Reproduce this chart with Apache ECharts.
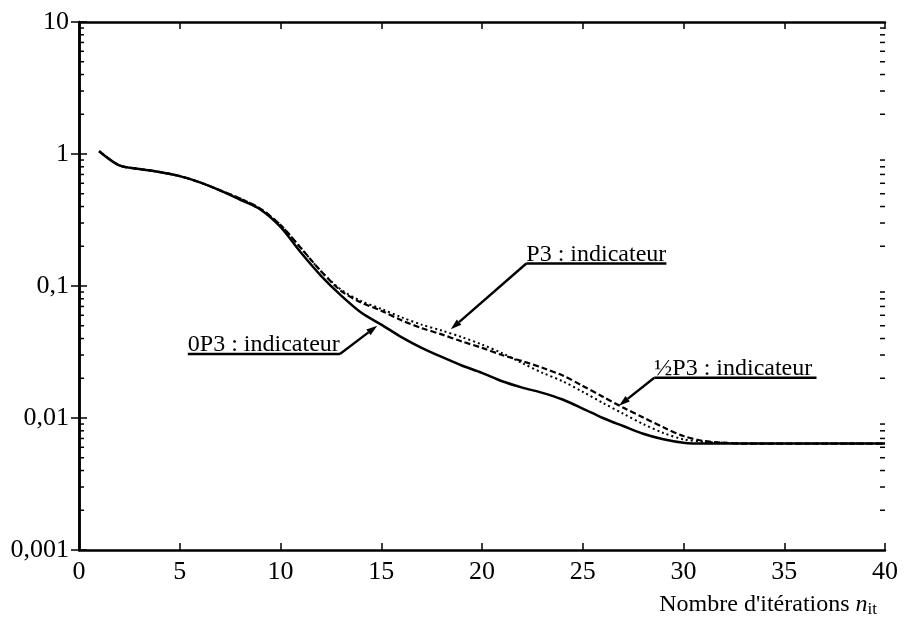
<!DOCTYPE html>
<html>
<head>
<meta charset="utf-8">
<script src="https://cdn.jsdelivr.net/npm/echarts@6/dist/echarts.min.js"></script>
<style>
  html, body { margin: 0; padding: 0; background: #fff; }
  #chart { width: 904px; height: 620px; }
</style>
</head>
<body>
<div id="chart"></div>
<script>
// Nombre d'itérations
const iterations = [1, 2, 3, 4, 5, 6, 7, 8, 9, 10, 11, 12, 13, 14, 15, 16, 17, 18, 19, 20,
  21, 22, 23, 24, 25, 26, 27, 28, 29, 30, 31, 32, 33, 34, 35, 36, 37, 38, 39, 40];

// 0P3 : indicateur (trait plein)
const serie0P3 = [1.05, 0.82, 0.77, 0.73, 0.68, 0.61, 0.53, 0.45, 0.38, 0.28,
  0.18, 0.12, 0.085, 0.063, 0.051, 0.041, 0.034, 0.029, 0.025, 0.022,
  0.019, 0.017, 0.0155, 0.0138, 0.0118, 0.0100, 0.0087, 0.0076, 0.0069, 0.0065,
  0.0064, 0.0064, 0.0064, 0.0064, 0.0064, 0.0064, 0.0064, 0.0064, 0.0064, 0.0064];

// P3 : indicateur (pointillés)
const serieP3 = [1.05, 0.82, 0.77, 0.73, 0.68, 0.61, 0.53, 0.46, 0.385, 0.29,
  0.195, 0.13, 0.094, 0.077, 0.067, 0.058, 0.051, 0.046, 0.041, 0.036,
  0.031, 0.026, 0.022, 0.019, 0.0158, 0.0130, 0.0108, 0.0090, 0.0077, 0.0069,
  0.0066, 0.0065, 0.0064, 0.0064, 0.0064, 0.0064, 0.0064, 0.0064, 0.0064, 0.0064];

// ½P3 : indicateur (tirets)
const serieDemiP3 = [1.05, 0.82, 0.77, 0.73, 0.68, 0.61, 0.53, 0.46, 0.385, 0.29,
  0.195, 0.13, 0.092, 0.075, 0.065, 0.055, 0.048, 0.043, 0.038, 0.034,
  0.030, 0.027, 0.024, 0.021, 0.0175, 0.0145, 0.0120, 0.0101, 0.0085, 0.0073,
  0.0067, 0.0065, 0.0064, 0.0064, 0.0064, 0.0064, 0.0064, 0.0064, 0.0064, 0.0064];

// étiquettes de l'axe des ordonnées (par puissance de 10)
const yTickLabels = { '-3': '0,001', '-2': '0,01', '-1': '0,1', '0': '1', '1': '10' };

// graduations secondaires de l'axe log (2..9 de chaque décade)
const minorTicks = [];
[0.001, 0.01, 0.1, 1].forEach(d => {
  [2, 3, 4, 5, 6, 7, 8, 9].forEach(m => minorTicks.push(+(d * m).toPrecision(3)));
});

// annotations : texte, début et fin du souligné, pointe de flèche (coordonnées données)
const annotations = [
  { text: '0P3 : indicateur', from: [5.4, 0.0305], to: [12.95, 0.0305], tip: [14.8, 0.050] },
  { text: 'P3 : indicateur', from: [22.2, 0.148], to: [29.15, 0.148], tip: [18.45, 0.047] },
  { text: '½P3 : indicateur', from: [28.55, 0.0202], to: [36.6, 0.0202], tip: [26.8, 0.0124] }
];

const FONT = '"Liberation Serif", "DejaVu Serif", serif';
const FS = 24;      // textes
const FS_TICK = 26; // graduations
const toPairs = vals => iterations.map((x, i) => [x, vals[i]]);

const chart = echarts.init(document.getElementById('chart'));

const axisLine = { show: true, lineStyle: { color: '#000', width: 2.5 } };

chart.setOption({
  animation: false,
  backgroundColor: '#fff',
  grid: { left: 79, right: 19, top: 22, bottom: 70, containLabel: false },
  title: {
    text: 'Nombre d\'itérations {n|n}{s|it}',
    right: 22,
    top: 587,
    textStyle: {
      fontFamily: FONT, fontSize: FS, fontWeight: 'normal', color: '#000',
      rich: {
        n: { fontFamily: FONT, fontSize: FS, fontStyle: 'italic', color: '#000' },
        s: { fontFamily: FONT, fontSize: 17, color: '#000', verticalAlign: 'bottom', padding: [9, 0, 0, 0] }
      }
    }
  },
  xAxis: [
    {
      type: 'value', min: 0, max: 40, interval: 5,
      axisLine,
      axisTick: { show: true, inside: true, length: 7, lineStyle: { color: '#000', width: 1.5 } },
      axisLabel: { color: '#000', fontFamily: FONT, fontSize: FS_TICK, margin: 9 },
      splitLine: { show: false }
    },
    {
      type: 'value', min: 0, max: 40, interval: 5, position: 'top',
      axisLine,
      axisTick: { show: true, inside: true, length: 7, lineStyle: { color: '#000', width: 1.5 } },
      axisLabel: { show: false },
      splitLine: { show: false }
    }
  ],
  yAxis: [
    {
      type: 'log', logBase: 10, min: 0.001, max: 10,
      axisLine,
      axisTick: { show: true, inside: true, length: 8, lineStyle: { color: '#000', width: 1.5 } },
      axisLabel: {
        color: '#000', fontFamily: FONT, fontSize: FS_TICK, margin: 10,
        formatter: v => yTickLabels[String(Math.round(Math.log10(v)))] || ''
      },
      splitLine: { show: false }
    },
    {
      type: 'log', logBase: 10, min: 0.001, max: 10, position: 'right',
      axisLine,
      axisTick: { show: true, inside: true, length: 8, lineStyle: { color: '#000', width: 1.5 } },
      axisLabel: { show: false },
      splitLine: { show: false }
    }
  ],
  series: [
    {
      name: '0P3 : indicateur', type: 'line', data: toPairs(serie0P3),
      smooth: 0.3, showSymbol: false,
      lineStyle: { color: '#000', width: 2.5, type: 'solid' }, z: 3
    },
    {
      name: 'P3 : indicateur', type: 'line', data: toPairs(serieP3),
      smooth: 0.3, showSymbol: false,
      lineStyle: { color: '#000', width: 2, type: [2, 3] }, z: 2
    },
    {
      name: '½P3 : indicateur', type: 'line', data: toPairs(serieDemiP3),
      smooth: 0.3, showSymbol: false,
      lineStyle: { color: '#000', width: 2.2, type: [6, 3] }, z: 2
    },
    {
      // graduations secondaires gauche/droite
      type: 'custom', silent: true,
      data: minorTicks.map(v => [0, v]),
      renderItem: (params, api) => {
        const p = api.coord([0, api.value(1)]);
        const r = api.coord([40, api.value(1)]);
        const style = { stroke: '#000', lineWidth: 1.5 };
        return {
          type: 'group',
          children: [
            { type: 'line', shape: { x1: p[0], y1: p[1], x2: p[0] + 5, y2: p[1] }, style },
            { type: 'line', shape: { x1: r[0], y1: r[1], x2: r[0] - 5, y2: r[1] }, style }
          ]
        };
      },
      z: 1
    }
  ]
});

// annotations avec flèches, positionnées via les échelles de l'axe
function drawAnnotations() {
  const elements = [];
  annotations.forEach(a => {
    const from = chart.convertToPixel({ xAxisIndex: 0, yAxisIndex: 0 }, a.from);
    const to = chart.convertToPixel({ xAxisIndex: 0, yAxisIndex: 0 }, a.to);
    const tip = chart.convertToPixel({ xAxisIndex: 0, yAxisIndex: 0 }, a.tip);
    // la ligne de rappel part de l'extrémité du souligné la plus proche de la pointe
    const start = Math.abs(tip[0] - from[0]) < Math.abs(tip[0] - to[0]) ? from : to;
    const ang = Math.atan2(tip[1] - start[1], tip[0] - start[0]);
    const L = 11, W = 3.5;
    const bx = tip[0] - L * Math.cos(ang), by = tip[1] - L * Math.sin(ang);
    const nx = -Math.sin(ang) * W, ny = Math.cos(ang) * W;
    elements.push(
      { type: 'line', shape: { x1: from[0], y1: from[1], x2: to[0], y2: to[1] }, style: { stroke: '#000', lineWidth: 2.4 }, z: 10 },
      { type: 'line', shape: { x1: start[0], y1: start[1], x2: bx, y2: by }, style: { stroke: '#000', lineWidth: 2.4 }, z: 10 },
      { type: 'polygon', shape: { points: [[tip[0], tip[1]], [bx + nx, by + ny], [bx - nx, by - ny]] }, style: { fill: '#000' }, z: 10 },
      {
        type: 'text', x: from[0], y: from[1] + 3, z: 10,
        style: { text: a.text, font: FS + 'px ' + FONT, fill: '#000', textAlign: 'left', textVerticalAlign: 'bottom' }
      }
    );
  });
  chart.setOption({ graphic: elements });
}
drawAnnotations();
</script>
</body>
</html>
